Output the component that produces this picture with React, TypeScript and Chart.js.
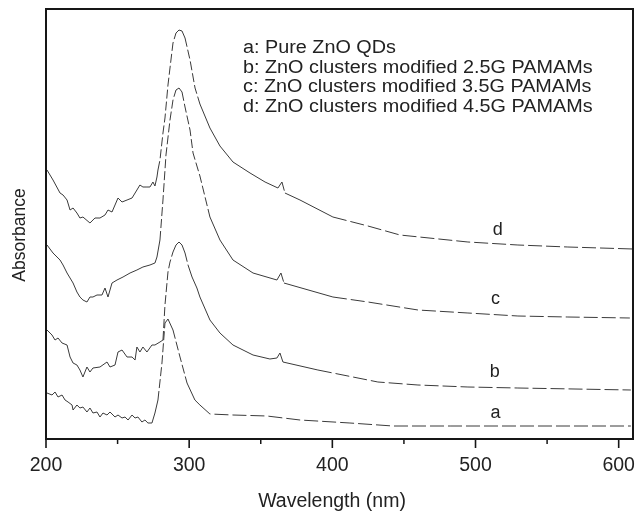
import React, { useEffect, useRef } from 'react';
import { Chart, registerables } from 'chart.js';

Chart.register(...registerables);

const FONT = "'Liberation Sans', Arial, Helvetica, sans-serif";

const xTickValues = [200, 300, 400, 500, 600];
const xTickLabels = ['200', '300', '400', '500', '600'];
const xMinorTickValues = [250, 350, 450, 550];
const xTitle = 'Wavelength (nm)';
const yTitle = 'Absorbance';
const legendLines = [
  'a: Pure ZnO QDs',
  'b: ZnO clusters modified 2.5G PAMAMs',
  'c: ZnO clusters modified 3.5G PAMAMs',
  'd: ZnO clusters modified 4.5G PAMAMs',
];
const curveNames = ['a', 'b', 'c', 'd'];
const curveLabelWavelengths = [514, 513.5, 514, 515.5];
const curveLabelLevels = [26, 67, 140, 209];

// Curve a: Pure ZnO QDs
const aWavelength = [200.7, 204.2, 206.3, 208.4, 211.2, 213.3, 215.4, 218.2, 218.9, 221.6, 223.7, 225.8, 228.6, 230.7, 232.8, 235.6, 237.7, 239.8, 242.6, 244.7, 248.2, 250.3, 253.1, 255.2, 257.3, 260.1, 262.2, 264.2, 267.0, 269.1, 271.2, 274.0, 276.1, 278.2, 281.0, 283.1, 285.2, 288.7, 293.6, 298.5, 304.0, 307.5, 314.5, 330.6, 354.3, 377.4, 412.3, 442.3, 482.8, 608.5];
const aAbsorbance = [46, 44, 47, 42, 44, 39, 37, 34, 29, 34, 31, 32, 27, 31, 26, 27, 22, 26, 24, 27, 22, 24, 21, 22, 19, 24, 21, 22, 17, 19, 16, 16, 26, 39, 76, 116, 120, 109, 82, 56, 39, 34, 25, 24, 23, 19, 16, 13, 13, 13];

// Curve b: 2.5G PAMAM
const bWavelength = [200.7, 204.2, 206.3, 208.4, 211.2, 214.7, 216.8, 218.9, 221.6, 223.7, 225.8, 228.6, 230.7, 232.8, 237.7, 242.6, 244.7, 248.2, 250.3, 253.1, 256.6, 260.1, 262.2, 263.5, 265.6, 267.7, 270.5, 274.0, 276.1, 279.6, 281.7, 283.1, 285.2, 286.6, 288.7, 290.8, 292.9, 295.0, 297.1, 299.2, 302.0, 305.4, 307.5, 314.5, 321.5, 330.6, 344.6, 356.4, 361.3, 363.4, 365.5, 389.9, 400.4, 431.8, 459.8, 494.7, 529.6, 608.5];
const bAbsorbance = [109, 104, 99, 101, 96, 94, 82, 76, 74, 69, 62, 72, 67, 71, 72, 77, 72, 74, 87, 89, 82, 82, 79, 92, 87, 92, 87, 94, 94, 97, 99, 134, 167, 177, 187, 194, 197, 194, 186, 174, 162, 151, 142, 119, 106, 94, 84, 80, 81, 86, 77, 69, 66, 57, 54, 52, 51, 49];

// Curve c: 3.5G PAMAM
const cWavelength = [200.7, 204.9, 209.8, 211.9, 214.7, 218.9, 221.6, 223.7, 225.8, 228.6, 230.7, 232.8, 235.6, 239.1, 241.2, 243.3, 246.1, 249.6, 253.8, 258.7, 263.5, 267.7, 272.6, 276.1, 277.5, 279.6, 281.7, 283.8, 286.6, 288.7, 290.8, 292.9, 295.0, 297.1, 300.6, 302.7, 307.5, 314.5, 321.5, 330.6, 344.6, 361.3, 364.1, 366.2, 400.4, 424.9, 459.8, 494.7, 529.6, 564.5, 607.8];
const cAbsorbance = [194, 186, 179, 174, 166, 156, 147, 142, 139, 137, 142, 142, 144, 144, 151, 142, 156, 159, 162, 166, 169, 172, 174, 176, 182, 199, 239, 284, 319, 339, 349, 351, 347, 332, 309, 286, 263, 222, 199, 179, 166, 159, 166, 156, 142, 137, 129, 126, 123, 122, 121];

// Curve d: 4.5G PAMAM
const dWavelength = [200.7, 204.9, 209.8, 211.9, 214.7, 216.8, 218.9, 221.6, 223.7, 225.8, 230.7, 234.2, 237.7, 241.2, 243.3, 246.1, 248.2, 250.3, 253.1, 256.6, 260.1, 263.5, 265.6, 267.7, 270.5, 272.6, 274.7, 276.1, 277.5, 278.2, 279.6, 281.7, 283.1, 285.2, 286.6, 288.7, 290.8, 292.9, 295.0, 297.1, 300.6, 304.1, 307.5, 314.5, 321.5, 330.6, 342.5, 353.0, 362.0, 364.8, 366.9, 377.4, 400.4, 424.9, 447.2, 494.7, 529.6, 564.5, 609.9];
const dAbsorbance = [269, 259, 246, 244, 239, 229, 231, 226, 221, 222, 216, 221, 221, 224, 229, 227, 234, 241, 237, 239, 241, 249, 254, 252, 252, 252, 257, 253, 262, 269, 279, 306, 321, 354, 371, 396, 406, 409, 408, 401, 379, 351, 335, 311, 293, 277, 266, 257, 251, 257, 246, 239, 222, 213, 204, 197, 194, 192, 190];

const series = [
  { name: 'a', wl: aWavelength, abs: aAbsorbance, dashFrom: 305 },
  { name: 'b', wl: bWavelength, abs: bAbsorbance, dashFrom: 380 },
  { name: 'c', wl: cWavelength, abs: cAbsorbance, dashFrom: 380 },
  { name: 'd', wl: dWavelength, abs: dAbsorbance, dashFrom: 380 },
];

const decorPlugin = {
  id: 'decor',
  afterDraw(chart: any) {
    const { ctx, chartArea, scales } = chart;
    const xs = scales.x;
    const ys = scales.y;
    const L = chartArea.left;
    const R = chartArea.right;
    const T = chartArea.top;
    const B = chartArea.bottom;
    ctx.save();
    ctx.setLineDash([]);
    // frame (all four sides)
    ctx.strokeStyle = '#161616';
    ctx.lineWidth = 2;
    ctx.beginPath();
    ctx.moveTo(L, B);
    ctx.lineTo(L, T);
    ctx.lineTo(R, T);
    ctx.lineTo(R, B);
    ctx.closePath();
    ctx.stroke();
    // major ticks + labels
    ctx.lineWidth = 1.6;
    ctx.fillStyle = '#222';
    ctx.font = `19.5px ${FONT}`;
    ctx.textAlign = 'center';
    ctx.textBaseline = 'alphabetic';
    xTickValues.forEach((v, i) => {
      const px = xs.getPixelForValue(v);
      ctx.beginPath();
      ctx.moveTo(px, B);
      ctx.lineTo(px, B + 9);
      ctx.stroke();
      ctx.fillText(xTickLabels[i], px, 471);
    });
    // minor ticks
    ctx.lineWidth = 1.5;
    xMinorTickValues.forEach((v) => {
      const px = xs.getPixelForValue(v);
      ctx.beginPath();
      ctx.moveTo(px, B);
      ctx.lineTo(px, B + 5);
      ctx.stroke();
    });
    // axis titles
    ctx.fillText(xTitle, 332, 507);
    ctx.save();
    ctx.translate(25, 235);
    ctx.rotate(-Math.PI / 2);
    ctx.font = `17.5px ${FONT}`;
    ctx.fillText(yTitle, 0, 0);
    ctx.restore();
    // legend text
    ctx.save();
    ctx.font = `18px ${FONT}`;
    ctx.textAlign = 'left';
    ctx.translate(243, 0);
    ctx.scale(1.1, 1);
    const baselines = [53, 72.5, 92, 111.5];
    legendLines.forEach((t, i) => ctx.fillText(t, 0, baselines[i]));
    ctx.restore();
    // curve letters
    ctx.font = `18px ${FONT}`;
    ctx.textAlign = 'center';
    ctx.textBaseline = 'middle';
    curveNames.forEach((n, i) => {
      ctx.fillText(n, xs.getPixelForValue(curveLabelWavelengths[i]), ys.getPixelForValue(curveLabelLevels[i]));
    });
    ctx.restore();
  },
};

export default function App() {
  const canvasRef = useRef<HTMLCanvasElement | null>(null);
  useEffect(() => {
    if (!canvasRef.current) return;
    const datasets = series.map((s) => ({
      label: s.name,
      data: s.wl.map((w, i) => ({ x: w, y: s.abs[i] })),
      borderColor: '#3a3a3a',
      borderWidth: 1,
      pointRadius: 0,
      tension: 0,
      fill: false,
      segment: {
        borderDash: (c: any) => {
          if (c.p0.parsed.x >= s.dashFrom) return [14, 4];
          const dx = Math.abs(c.p1.x - c.p0.x) || 0.001;
          const dy = Math.abs(c.p1.y - c.p0.y);
          if (dy / dx > 3 && c.p0.parsed.x > 278) return [9, 3];
          return undefined;
        },
      },
    }));
    const chart = new Chart(canvasRef.current, {
      type: 'line',
      data: { datasets },
      options: {
        animation: false,
        responsive: false,
        maintainAspectRatio: false,
        layout: { padding: { top: 9, right: 5, left: 0, bottom: 0 } },
        plugins: { legend: { display: false }, tooltip: { enabled: false } },
        scales: {
          x: {
            type: 'linear',
            min: 200,
            max: 610,
            afterFit: (scale: any) => { scale.height = 72; },
            border: { display: false },
            grid: { display: false },
            ticks: { display: false },
          },
          y: {
            type: 'linear',
            min: 0,
            max: 430,
            afterFit: (scale: any) => { scale.width = 46; },
            border: { display: false },
            grid: { display: false },
            ticks: { display: false },
          },
        },
      },
      plugins: [decorPlugin],
    });
    return () => chart.destroy();
  }, []);
  return (
    <div style={{ position: 'fixed', left: 0, top: 0, width: 638, height: 511, background: '#fff' }}>
      <canvas ref={canvasRef} width={638} height={511} style={{ width: 638, height: 511, display: 'block' }} />
    </div>
  );
}
